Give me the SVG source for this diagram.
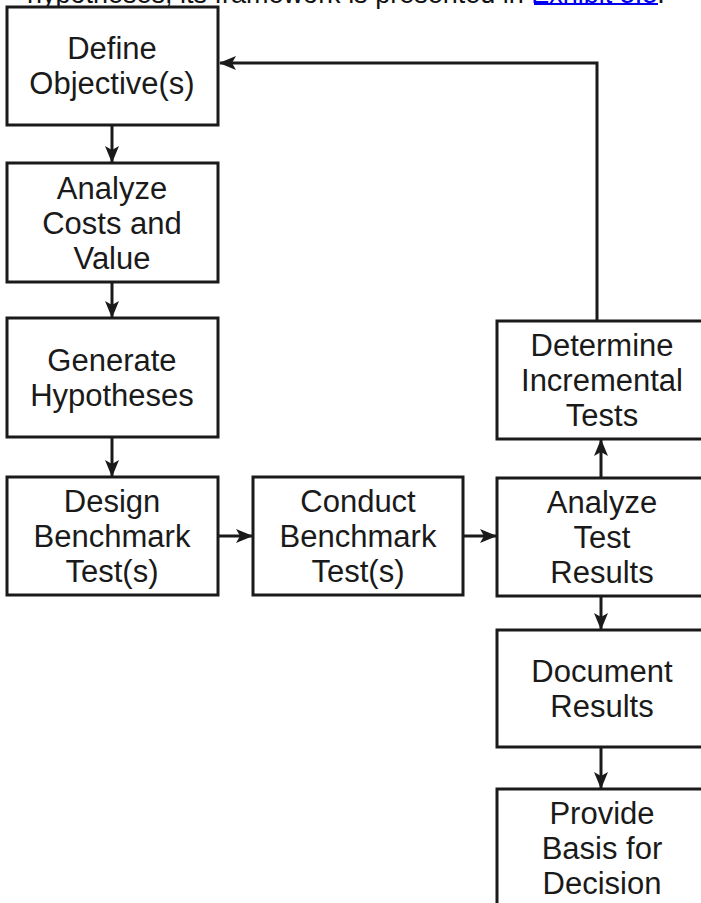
<svg xmlns="http://www.w3.org/2000/svg" width="701" height="903" viewBox="0 0 701 903">
<style>
.box{fill:#fff;stroke:#1a1a1a;stroke-width:3}
.lbl{font-family:"Liberation Sans",Arial,Helvetica,sans-serif;font-size:31px;fill:#1a1a1a;text-anchor:middle}
.ln{fill:none;stroke:#1a1a1a;stroke-width:3}
.top{font-family:"Liberation Sans",Arial,Helvetica,sans-serif;font-size:27px;fill:#111}
</style>
<defs>
<marker id="ah" markerWidth="17" markerHeight="14" refX="16" refY="7" orient="auto" markerUnits="userSpaceOnUse">
<path d="M0,0 L17,7 L0,14 L4,7 Z" fill="#1a1a1a"/>
</marker>
</defs>
<rect width="701" height="903" fill="#fff"/>
<g id="caption">
<text class="top" x="27" y="3">hypotheses, its framework is presented in <tspan fill="#0000ee">Exhibit 3.3</tspan>.</text>
<rect x="534" y="3" width="124" height="2" fill="#0000ee"/>
</g>
<g id="connectors">
<line class="ln" x1="112" y1="125" x2="112" y2="162" marker-end="url(#ah)"/>
<line class="ln" x1="112" y1="282" x2="112" y2="317" marker-end="url(#ah)"/>
<line class="ln" x1="112" y1="437" x2="112" y2="476" marker-end="url(#ah)"/>
<line class="ln" x1="218" y1="536" x2="252" y2="536" marker-end="url(#ah)"/>
<line class="ln" x1="463" y1="536" x2="496" y2="536" marker-end="url(#ah)"/>
<line class="ln" x1="601" y1="478" x2="601" y2="440" marker-end="url(#ah)"/>
<line class="ln" x1="601" y1="596" x2="601" y2="629" marker-end="url(#ah)"/>
<line class="ln" x1="601" y1="747" x2="601" y2="788" marker-end="url(#ah)"/>
<polyline class="ln" points="597,321 597,63 220,63" marker-end="url(#ah)"/>
</g>
<g id="define">
<rect class="box" x="7" y="7" width="211" height="118"/>
<text class="lbl" x="112" y="59">Define</text>
<text class="lbl" x="112" y="94">Objective(s)</text>
</g>
<g id="analyze-costs">
<rect class="box" x="7" y="163" width="211" height="119"/>
<text class="lbl" x="112" y="199">Analyze</text>
<text class="lbl" x="112" y="234">Costs and</text>
<text class="lbl" x="112" y="269">Value</text>
</g>
<g id="generate">
<rect class="box" x="7" y="318" width="211" height="119"/>
<text class="lbl" x="112" y="371">Generate</text>
<text class="lbl" x="112" y="406">Hypotheses</text>
</g>
<g id="design">
<rect class="box" x="7" y="477" width="211" height="118"/>
<text class="lbl" x="112" y="512">Design</text>
<text class="lbl" x="112" y="547">Benchmark</text>
<text class="lbl" x="112" y="582">Test(s)</text>
</g>
<g id="conduct">
<rect class="box" x="253" y="477" width="210" height="118"/>
<text class="lbl" x="358" y="512">Conduct</text>
<text class="lbl" x="358" y="547">Benchmark</text>
<text class="lbl" x="358" y="582">Test(s)</text>
</g>
<g id="analyze-test">
<rect class="box" x="497" y="478" width="210" height="118"/>
<text class="lbl" x="602" y="513">Analyze</text>
<text class="lbl" x="602" y="548">Test</text>
<text class="lbl" x="602" y="583">Results</text>
</g>
<g id="determine">
<rect class="box" x="497" y="321" width="210" height="118"/>
<text class="lbl" x="602" y="356">Determine</text>
<text class="lbl" x="602" y="391">Incremental</text>
<text class="lbl" x="602" y="426">Tests</text>
</g>
<g id="document">
<rect class="box" x="497" y="630" width="210" height="117"/>
<text class="lbl" x="602" y="682">Document</text>
<text class="lbl" x="602" y="717">Results</text>
</g>
<g id="provide">
<rect class="box" x="497" y="789" width="210" height="120"/>
<text class="lbl" x="602" y="824">Provide</text>
<text class="lbl" x="602" y="859">Basis for</text>
<text class="lbl" x="602" y="894">Decision</text>
</g>
</svg>
